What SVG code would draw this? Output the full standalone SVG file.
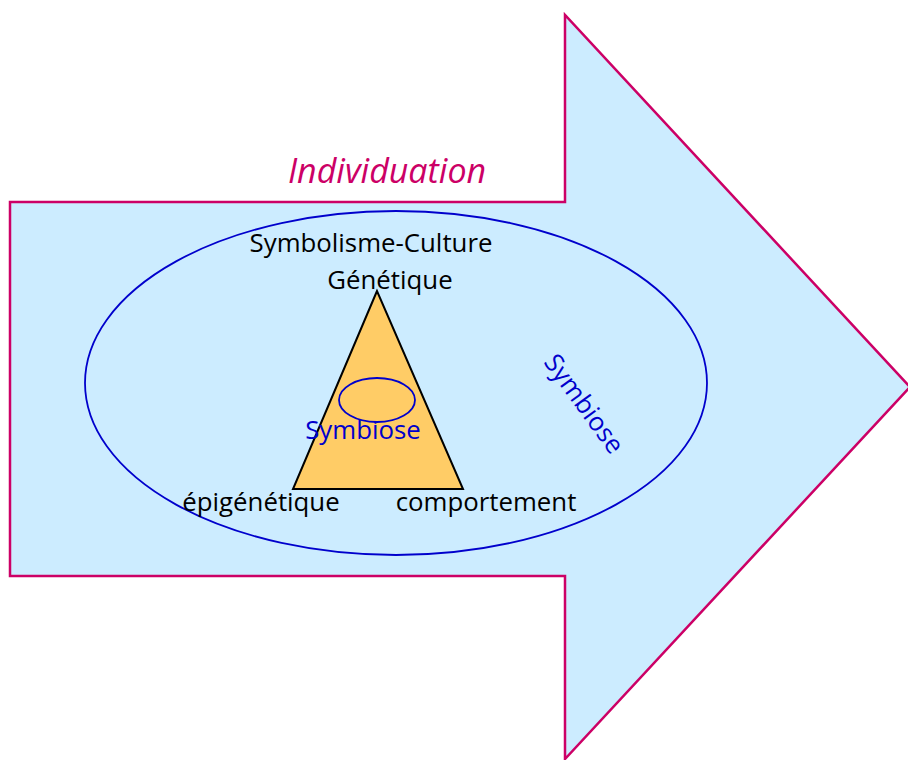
<svg xmlns="http://www.w3.org/2000/svg" width="908" height="760" viewBox="0 0 908 760">
<style>
text{font-family:"Open Sans","Liberation Sans",sans-serif;font-variant-ligatures:none;}
.k{font-size:25.8px;fill:#000;text-anchor:middle;}
.b{font-size:25.8px;fill:#0000CC;text-anchor:middle;}
</style>
<rect width="908" height="760" fill="#fff"/>
<g id="arrow">
<polygon points="10,202 565,202 565,15 910,387 565,759 565,576 10,576" fill="#CCECFF" stroke="#CC0066" stroke-width="2.5" stroke-linejoin="miter"/>
</g>
<g id="individuation">
<text x="387" y="183" style="font-size:34px;font-style:italic;fill:#CC0066;text-anchor:middle">Individuation</text>
</g>
<g id="outer-ellipse">
<ellipse cx="396" cy="383" rx="311" ry="172" fill="none" stroke="#0000CC" stroke-width="1.8"/>
</g>
<g id="triangle">
<polygon points="377,291 293,489 463,489" fill="#FFCC66" stroke="#000" stroke-width="2"/>
</g>
<g id="inner-ellipse">
<ellipse cx="377" cy="400" rx="38" ry="22" fill="none" stroke="#0000CC" stroke-width="1.8"/>
</g>
<g id="labels">
<text class="k" x="371" y="252">Symbolisme-Culture</text>
<text class="k" x="390" y="289">Génétique</text>
<text class="b" x="363" y="439">Symbiose</text>
<text class="k" x="261" y="511">épigénétique</text>
<text class="k" x="486" y="511">comportement</text>
<text class="b" x="0" y="0" transform="translate(577,409) rotate(54)">Symbiose</text>
</g>
</svg>
